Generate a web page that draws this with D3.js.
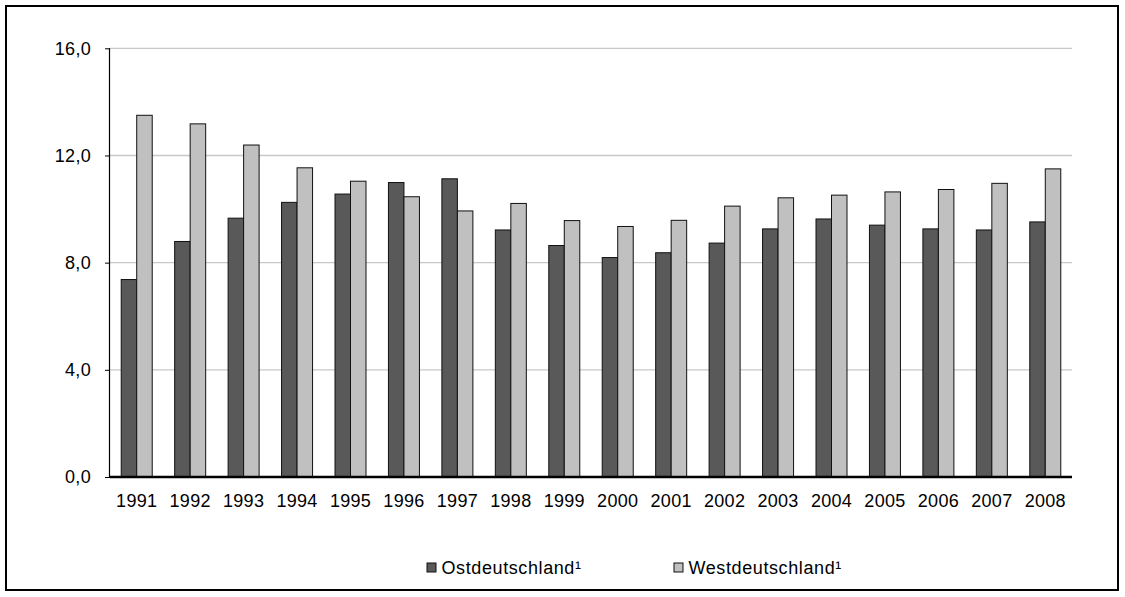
<!DOCTYPE html>
<html>
<head>
<meta charset="utf-8">
<script src="https://cdn.jsdelivr.net/npm/d3@7"></script>
<style>
  html, body { margin: 0; padding: 0; background: #fff; }
  svg { display: block; }
  text { font-family: "Liberation Sans", Arial, sans-serif; fill: #000; }
</style>
</head>
<body>
<svg id="chart" width="1125" height="597"></svg>
<script>
const years = ["1991","1992","1993","1994","1995","1996","1997","1998","1999","2000","2001","2002","2003","2004","2005","2006","2007","2008"];
const ost  = [7.37, 8.79, 9.66, 10.25, 10.56, 10.99, 11.13, 9.22, 8.64, 8.19, 8.37, 8.73, 9.26, 9.63, 9.40, 9.26, 9.22, 9.52];
const west = [13.50, 13.18, 12.39, 11.54, 11.04, 10.46, 9.93, 10.21, 9.57, 9.35, 9.58, 10.11, 10.42, 10.52, 10.64, 10.73, 10.96, 11.50];
const seriesNames = ["Ostdeutschland\u00b9", "Westdeutschland\u00b9"];
const seriesColors = ["#595959", "#c0c0c0"];
const yTicks = [0, 4, 8, 12, 16];

(function () {
const svg = d3.select("#chart");
const FONT = "Liberation Sans, Arial, sans-serif";

// outer frame
svg.append("rect").attr("x", 6).attr("y", 6).attr("width", 1112).attr("height", 584)
  .attr("fill", "none").attr("stroke", "#000").attr("stroke-width", 2);

const pLeft = 110, pRight = 1072, pTop = 48.3, pBottom = 477;
const x = d3.scaleBand().domain(years).range([pLeft, pRight]).paddingInner(0.42).paddingOuter(0.21);
const xs = d3.scaleBand().domain([0, 1]).range([0, x.bandwidth()]);
const y = d3.scaleLinear().domain([0, 16]).range([pBottom, pTop]);

// gridlines
svg.append("g").selectAll("line").data(yTicks.filter(d => d > 0)).join("line")
  .attr("x1", pLeft).attr("x2", pRight)
  .attr("y1", d => y(d)).attr("y2", d => y(d))
  .attr("stroke", "#c8c8c8").attr("stroke-width", 1.3);

// bars
const data = [ost, west];
const g = svg.append("g");
years.forEach((yr, i) => {
  data.forEach((s, k) => {
    g.append("rect")
      .attr("x", x(yr) + xs(k))
      .attr("y", y(s[i]))
      .attr("width", xs.bandwidth())
      .attr("height", y(0) - y(s[i]))
      .attr("fill", seriesColors[k])
      .attr("stroke", "#111").attr("stroke-width", 1);
  });
});

// y axis
const fmt = d => d3.format(".1f")(d).replace(".", ",");
const yAxis = d3.axisLeft(y).tickValues(yTicks).tickFormat(fmt).tickSize(5).tickPadding(14);
const ya = svg.append("g").attr("transform", `translate(${pLeft},0)`).call(yAxis);
ya.select(".domain").attr("stroke", "#000").attr("stroke-width", 1.2).attr("d", `M-0.5,${pTop}V${pBottom}`);
ya.selectAll(".tick line").attr("stroke", "#000");
ya.selectAll("text").attr("font-size", 18).attr("font-family", FONT).attr("fill", "#000")
  .attr("letter-spacing", 0.3);

// x axis
const xAxis = d3.axisBottom(x).tickSize(0).tickPadding(17);
const xa = svg.append("g").attr("transform", `translate(0,${pBottom})`).call(xAxis);
xa.select(".domain").attr("stroke", "#000").attr("stroke-width", 2.5).attr("d", `M${pLeft},0H${pRight}`);
xa.selectAll("text").attr("font-size", 18).attr("font-family", FONT).attr("fill", "#000")
  .attr("letter-spacing", 0.3);

// legend
const legX = [427, 674];
seriesNames.forEach((n, k) => {
  svg.append("rect").attr("x", legX[k]).attr("y", 563).attr("width", 9).attr("height", 9)
    .attr("fill", seriesColors[k]).attr("stroke", "#111").attr("stroke-width", 1);
  svg.append("text").attr("x", legX[k] + 14.5).attr("y", 574).attr("font-size", 18)
    .attr("letter-spacing", 0.6)
    .attr("font-family", FONT).text(n);
});
})();
</script>
</body>
</html>
